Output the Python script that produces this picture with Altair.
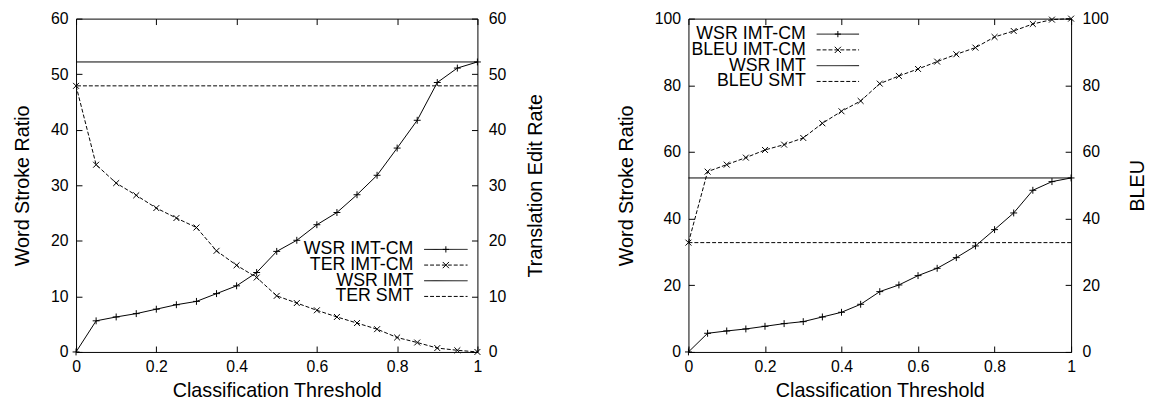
import altair as alt
import pandas as pd

# ---- data ----
thresholds = [0.0, 0.05, 0.1, 0.15, 0.2, 0.25, 0.3, 0.35, 0.4, 0.45, 0.5,
              0.55, 0.6, 0.65, 0.7, 0.75, 0.8, 0.85, 0.9, 0.95, 1.0]
wsr_imt_cm = [0.0, 5.6, 6.3, 6.9, 7.7, 8.5, 9.1, 10.5, 11.9, 14.3, 18.1,
              20.1, 22.9, 25.1, 28.3, 31.8, 36.7, 41.7, 48.5, 51.1, 52.2]
ter_imt_cm = [47.9, 33.7, 30.4, 28.2, 25.9, 24.1, 22.4, 18.2, 15.6, 13.4, 10.1,
              8.8, 7.5, 6.3, 5.2, 4.1, 2.6, 1.7, 0.7, 0.3, 0.0]
bleu_imt_cm = [32.8, 54.1, 56.2, 58.3, 60.6, 62.2, 64.2, 68.6, 72.2, 75.3, 80.5,
               82.8, 84.9, 87.1, 89.3, 91.3, 94.5, 96.3, 98.4, 99.7, 100.0]
wsr_imt = 52.2
ter_smt = 47.9
bleu_smt = 32.8

x_ticks = [0, 0.2, 0.4, 0.6, 0.8, 1]
left_y_ticks = [0, 10, 20, 30, 40, 50, 60]
right_y_ticks = [0, 20, 40, 60, 80, 100]
legend_left = ["WSR IMT-CM", "TER IMT-CM", "WSR IMT", "TER SMT"]
legend_right = ["WSR IMT-CM", "BLEU IMT-CM", "WSR IMT", "BLEU SMT"]

FONT = "Liberation Sans"
PLUS = "M-1,0L1,0M0,-1L0,1"
CROSS = "M-1,-1L1,1M1,-1L-1,1"
DASH = [4, 2]


def ax(orient, title=None, labels=True, values=None, **kw):
    pad = 8 if orient == "left" else (11 if orient == "right" else 7)
    return alt.Axis(orient=orient, title=title, labels=labels, values=values,
                    domain=False, ticks=True, tickSize=6, offset=-6, grid=False,
                    tickColor="black", labelPadding=pad, labelFlush=False, **kw)


def panel(width, height, ymax, yticks, other, other_ref, left_title, right_title,
          labels, text_x, sample_x0, sample_x1, row_range):
    curves = pd.DataFrame({"t": thresholds, "wsr": wsr_imt_cm, "other": other})
    refs = pd.DataFrame({"v": [wsr_imt, other_ref], "k": [0, 1]})
    rows = list(range(len(labels)))
    leg = pd.DataFrame({"row": rows, "label": labels})
    ys = alt.Scale(domain=[0, ymax], nice=False, zero=True)
    xs = alt.Scale(domain=[0, 1], nice=False)
    base = alt.Chart(curves)

    l_wsr = base.mark_line(color="black", strokeWidth=1).encode(
        x=alt.X("t:Q", scale=xs,
                axis=ax("bottom", "Classification Threshold", values=x_ticks,
                        format="~g", titlePadding=6)),
        y=alt.Y("wsr:Q", scale=ys, axis=ax("left", left_title, values=yticks,
                                           titlePadding=18)))
    l_oth = base.mark_line(color="black", strokeWidth=1, strokeDash=DASH).encode(
        x=alt.X("t:Q", scale=xs, axis=ax("top", None, labels=False, values=x_ticks)),
        y=alt.Y("other:Q", scale=ys,
                axis=ax("right", right_title, values=yticks, titleAngle=270,
                        titleBaseline="top", titlePadding=20)))
    p_wsr = base.mark_point(shape=PLUS, filled=False, stroke="black", strokeWidth=1,
                            size=49, opacity=1).encode(
        x=alt.X("t:Q", scale=xs, axis=None), y=alt.Y("wsr:Q", scale=ys, axis=None))
    p_oth = base.mark_point(shape=CROSS, filled=False, stroke="black", strokeWidth=1,
                            size=36, opacity=1).encode(
        x=alt.X("t:Q", scale=xs, axis=None), y=alt.Y("other:Q", scale=ys, axis=None))
    r_solid = alt.Chart(refs).transform_filter("datum.k == 0").mark_rule(
        color="black", strokeWidth=1).encode(y=alt.Y("v:Q", scale=ys, axis=None))
    r_dash = alt.Chart(refs).transform_filter("datum.k == 1").mark_rule(
        color="black", strokeWidth=1, strokeDash=DASH).encode(
        y=alt.Y("v:Q", scale=ys, axis=None))

    ry = alt.Y("row:O", axis=None,
               scale=alt.Scale(type="point", domain=rows, range=row_range, padding=0))
    lg = alt.Chart(leg)
    t_leg = lg.mark_text(align="right", baseline="middle", font=FONT, fontSize=18,
                         color="black").encode(
        x=alt.value(text_x), y=ry, text="label:N")
    s_leg = lg.mark_rule(strokeWidth=1, color="black").encode(
        x=alt.value(sample_x0), x2=alt.value(sample_x1), y=ry,
        strokeDash=alt.StrokeDash("row:O", legend=None,
                                  scale=alt.Scale(domain=rows,
                                                  range=[[1, 0], DASH, [1, 0], DASH])))
    m_leg = lg.transform_filter("datum.row < 2").mark_point(
        filled=False, stroke="black", strokeWidth=1, size=40, opacity=1).encode(
        x=alt.value((sample_x0 + sample_x1) / 2), y=ry,
        shape=alt.Shape("row:O", legend=None,
                        scale=alt.Scale(domain=[0, 1], range=[PLUS, CROSS])))

    return alt.layer(l_wsr, l_oth, r_solid, r_dash, p_wsr, p_oth,
                     t_leg, s_leg, m_leg).resolve_scale(
        y="independent").resolve_axis(x="independent", y="independent").properties(
        width=width, height=height)


left = panel(407, 338, 60, left_y_ticks, ter_imt_cm, ter_smt,
             "Word Stroke Ratio", "Translation Edit Rate", legend_left,
             342, 353, 397, [234, 281.7])
right = panel(388, 338, 100, right_y_ticks, bleu_imt_cm, bleu_smt,
              "Word Stroke Ratio", "BLEU", legend_right,
              119, 130, 173, [15.7, 63.7])

chart = alt.hconcat(left, right, spacing=70).properties(
    padding={"left": 4, "top": -1, "right": 0, "bottom": 0}
).configure_axis(
    labelFont=FONT, titleFont=FONT, labelFontSize=16, titleFontSize=20,
    titleFontWeight="normal", labelColor="black", titleColor="black"
).configure_view(stroke="black", strokeWidth=1)

chart.save("out.html", embed_options={"renderer": "svg", "actions": False})
